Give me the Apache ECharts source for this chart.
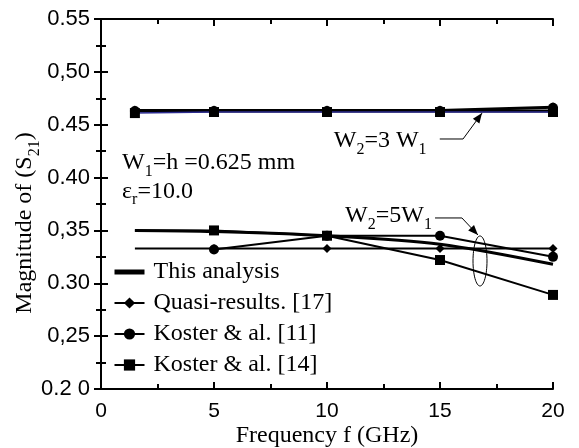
<!DOCTYPE html>
<html>
<head>
<meta charset="utf-8">
<script src="https://cdn.jsdelivr.net/npm/echarts@6/dist/echarts.min.js"></script>
<style>
  html, body { margin: 0; padding: 0; background: #fff; }
  #chart { width: 579px; height: 448px; }
</style>
</head>
<body>
<div id="chart"></div>
<script>
// tick labels as printed in the figure (mixed separators kept)
const xTickLabels = ['0', '5', '10', '15', '20'];
const yTickLabels = ['0.2 0', '0,25', '0.30', '0,35', '0.40', '0.45', '0,50', '0.55'];

const freqs = [1.5, 5, 10, 15, 20];

// W2 = 3 W1
const thisTop = [0.463, 0.463, 0.463, 0.463, 0.463];
const quasiTop = [0.464, 0.464, 0.464, 0.464, 0.467];
const koster11Top = [0.463, 0.463, 0.463, 0.463, 0.466];
const koster14Top = [0.461, 0.462, 0.462, 0.462, 0.462];

// W2 = 5 W1
const thisBot = [0.350, 0.349, 0.345, 0.337, 0.318];
const quasiBot = [0.333, 0.333, 0.333, 0.333, 0.333];
const koster11Freqs = [5, 10, 15, 20];
const koster11Bot = [0.332, 0.345, 0.345, 0.325];
const koster14Bot = [0.350, 0.350, 0.345, 0.322, 0.289];

const SERIF = 'Liberation Serif';
const SANS = 'Liberation Sans';

const pairs = (xs, ys, skipFirstSymbol) => xs.map((x, i) => {
  if (skipFirstSymbol && i === 0) return { value: [x, ys[i]], symbol: 'none' };
  return [x, ys[i]];
});

const lineSeries = (name, data, symbol, size, width, color) => ({
  name: name,
  type: 'line',
  data: data,
  symbol: symbol,
  symbolSize: size,
  showSymbol: symbol !== 'none',
  lineStyle: { color: color || '#000', width: width },
  itemStyle: { color: '#000' },
  z: 3,
  animation: false,
});

const chart = echarts.init(document.getElementById('chart'));

const yLabel = (v) => yTickLabels[Math.round((v - 0.2) / 0.05)] || '';
const xLabel = (v) => xTickLabels[Math.round(v / 5)] || '';

const axisCommon = {
  axisLine: { show: true, lineStyle: { color: '#000', width: 2 } },
  axisTick: { show: true, inside: true, length: 7, lineStyle: { color: '#000', width: 2 } },
  minorTick: { show: true, splitNumber: 2, length: 5, lineStyle: { color: '#000', width: 2 } },
  splitLine: { show: false },
};

chart.setOption({
  animation: false,
  grid: { left: 101, right: 26, top: 19, bottom: 59, outerBoundsMode: 'none', containLabel: false },
  legend: {
    orient: 'vertical',
    left: 112,
    top: 260,
    padding: 0,
    itemWidth: 30,
    itemHeight: 14,
    itemGap: 7,
    data: [
      { name: 'This analysis', itemStyle: { color: 'rgba(0,0,0,0)', borderWidth: 0 }, lineStyle: { width: 5, color: '#000' } },
      'Quasi-results. [17]', 'Koster & al. [11]', 'Koster & al. [14]',
    ],
    textStyle: { fontFamily: SERIF, fontSize: 24, color: '#000', padding: [0, 0, 0, 4] },
  },
  xAxis: [
    Object.assign({
      type: 'value', min: 0, max: 20, interval: 5, position: 'bottom',
      name: 'Frequency f (GHz)', nameLocation: 'middle', nameGap: 35, nameMoveOverlap: false,
      nameTextStyle: { fontFamily: SERIF, fontSize: 24, color: '#000' },
      axisLabel: { formatter: xLabel, fontFamily: SANS, fontSize: 21, color: '#000', margin: 12 },
    }, axisCommon),
    Object.assign({
      type: 'value', min: 0, max: 20, interval: 5, position: 'top',
      axisLabel: { show: false },
    }, axisCommon),
  ],
  yAxis: [
    Object.assign({
      type: 'value', min: 0.2, max: 0.55, interval: 0.05, position: 'left',
      name: 'Magnitude of (S{s|21})', nameLocation: 'middle', nameGap: 64, nameMoveOverlap: false,
      nameTextStyle: {
        fontFamily: SERIF, fontSize: 24, color: '#000', padding: [0, 38, 0, 0],
        rich: { s: { fontFamily: SERIF, fontSize: 16, color: '#000', verticalAlign: 'bottom', padding: [0, 0, -6, 0] } },
      },
      axisLabel: { formatter: yLabel, fontFamily: SANS, fontSize: 22, color: '#000', margin: 11 },
    }, axisCommon),
    Object.assign({
      type: 'value', min: 0.2, max: 0.55, interval: 0.05, position: 'right',
      axisLabel: { show: false },
    }, axisCommon),
  ],
  series: [
    Object.assign(lineSeries('This analysis', pairs(freqs, thisBot), 'none', 0, 3), { smooth: 0.3 }),
    lineSeries('This analysis', pairs(freqs, thisTop), 'none', 0, 3),
    lineSeries('Quasi-results. [17]', pairs(freqs, quasiBot, true), 'diamond', 9, 2),
    lineSeries('Quasi-results. [17]', pairs(freqs, quasiTop), 'diamond', 9, 2),
    lineSeries('Koster & al. [11]', pairs(koster11Freqs, koster11Bot), 'circle', 10, 2),
    lineSeries('Koster & al. [11]', pairs(freqs, koster11Top), 'circle', 10, 2),
    lineSeries('Koster & al. [14]', pairs(freqs, koster14Bot, true), 'rect', 10, 2),
    lineSeries('Koster & al. [14]', pairs(freqs, koster14Top), 'rect', 10, 1.5, '#2b2b8f'),
  ],
});

// annotations placed in data coordinates
const px = (x, y) => chart.convertToPixel({ xAxisIndex: 0, yAxisIndex: 0 }, [x, y]);
const subRich = { s: { fontFamily: SERIF, fontSize: 16, color: '#000', verticalAlign: 'bottom', padding: [0, 0, -5, 0] } };
const label = (text, x, y) => {
  const p = px(x, y);
  return {
    type: 'text', left: p[0], top: p[1] - 11, z: 10,
    style: { text: text, fontFamily: SERIF, fontSize: 24, fill: '#000', rich: subRich },
  };
};
const arrow = (pts) => {
  const p = pts.map((d) => px(d[0], d[1]));
  const a = p[p.length - 2], b = p[p.length - 1];
  const ang = Math.atan2(b[1] - a[1], b[0] - a[0]);
  const L = 10, W = 4;
  const head = [
    b,
    [b[0] - L * Math.cos(ang) + W * Math.sin(ang), b[1] - L * Math.sin(ang) - W * Math.cos(ang)],
    [b[0] - L * Math.cos(ang) - W * Math.sin(ang), b[1] - L * Math.sin(ang) + W * Math.cos(ang)],
  ];
  return [
    { type: 'polyline', z: 10, shape: { points: p }, style: { stroke: '#000', lineWidth: 1, fill: null } },
    { type: 'polygon', z: 10, shape: { points: head }, style: { fill: '#000' } },
  ];
};
const ec = px(16.77, 0.3211);

chart.setOption({
  graphic: [
    label('W{s|1}=h =0.625 mm', 0.93, 0.415),
    label('ε{s|r}=10.0', 0.93, 0.388),
    label('W{s|2}=3 W{s|1}', 10.3, 0.436),
    label('W{s|2}=5W{s|1}', 10.8, 0.365),
    ...arrow([[14.99, 0.4365], [16.02, 0.4365], [16.86, 0.461]]),
    ...arrow([[14.78, 0.3618], [15.97, 0.3618], [16.68, 0.3457]]),
    { type: 'ellipse', z: 10, shape: { cx: ec[0], cy: ec[1], rx: 7, ry: 25 }, style: { stroke: '#000', lineWidth: 1, fill: null } },
  ],
});
</script>
</body>
</html>
